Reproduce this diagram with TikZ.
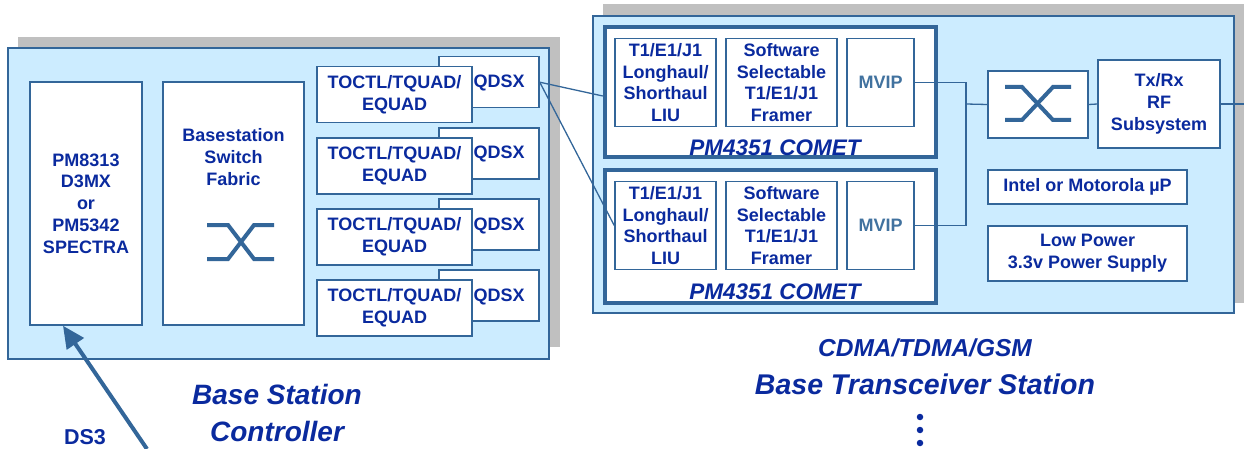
\documentclass[tikz,border=0pt]{standalone}
\usepackage{fontspec}
\setmainfont{Liberation Sans}
\usetikzlibrary{arrows.meta,calc}
\definecolor{txtblue}{HTML}{0A2A9E}
\definecolor{edgeblue}{HTML}{336699}
\definecolor{lightfill}{HTML}{CCECFF}
\definecolor{shadowgray}{HTML}{C0C0C0}
\definecolor{mvipblue}{HTML}{41729F}
\newcommand\bodyfont{\fontsize{18}{21.7}\selectfont\bfseries}
\begin{document}
\begin{tikzpicture}[x=1pt,y=-1pt,
  panel/.style={draw=edgeblue,line width=1.5pt,fill=lightfill,rectangle,inner sep=0pt},
  shadowbox/.style={fill=shadowgray,draw=none,rectangle,inner sep=0pt},
  blk/.style={draw=edgeblue,line width=1.5pt,fill=white,rectangle,inner sep=0pt,
    align=center,text=txtblue,font=\bodyfont},
  chip/.style={draw=edgeblue,line width=4.5pt,fill=white,rectangle,inner sep=0pt},
  lbl/.style={text=txtblue,font=\bodyfont,align=center,inner sep=0pt},
  biglbl/.style={text=txtblue,align=center,inner sep=0pt},
  wire/.style={draw=edgeblue,line width=1.3pt},
  xsym/.style={draw=edgeblue,line width=4pt},
  dot/.style={circle,fill=txtblue,inner sep=0pt,minimum size=6.5pt}]
\useasboundingbox (0,0) rectangle (1244,449);

% ---------- Base Station Controller ----------
\node[shadowbox,minimum width=542pt,minimum height=310pt] (bscsh) at (289,192) {};
\node[panel,minimum width=541pt,minimum height=311pt] (bsc) at (278.5,203.5) {};

\node[blk,minimum width=112pt,minimum height=243pt] (pm) at (86,203.5)
  {PM8313\\D3MX\\or\\PM5342\\SPECTRA};
\node[blk,minimum width=141pt,minimum height=243pt] (bsf) at (233.5,203.5) {};
\node[lbl] (bsft) at (233.5,157) {Basestation\\Switch\\Fabric};
\draw[xsym] (207,225) -- (228,225) -- (254,259) -- (274,259)
            (207,259) -- (228,259) -- (254,225) -- (274,225);

% QDSX + TOCTL boxes
\foreach \i/\yq/\yt in {1/82.2/94.7, 2/153.3/166, 3/224.5/237, 4/295.5/308}{
  \node[blk,minimum width=100pt,minimum height=51pt] (q\i) at (489,\yq) {};
  \node[lbl] (q\i t) at (499,\yq+1) {QDSX};
  \node[blk,minimum width=155pt,minimum height=56pt] (t\i) at (394.5,\yt)
    {TOCTL/TQUAD/\\EQUAD};
}

% ---------- Base Transceiver Station ----------
\node[shadowbox,minimum width=641pt,minimum height=299pt] (btssh) at (923.5,153.5) {};
\node[panel,minimum width=641pt,minimum height=297pt] (bts) at (913.5,164.5) {};

\node[chip,minimum width=331pt,minimum height=130pt] (c1) at (770.5,92) {};
\node[chip,minimum width=331pt,minimum height=133pt] (c2) at (770.5,236.5) {};

\foreach \i/\yc in {1/82.5, 2/225.5}{
  \node[blk,minimum width=101pt,minimum height=88pt] (liu\i) at (665.5,\yc)
    {T1/E1/J1\\Longhaul/\\Shorthaul\\LIU};
  \node[blk,minimum width=111pt,minimum height=88pt] (fr\i) at (781.5,\yc)
    {Software\\Selectable\\T1/E1/J1\\Framer};
  \node[blk,minimum width=67pt,minimum height=88pt,text=mvipblue] (mv\i) at (880.5,\yc) {MVIP};
}
\node[biglbl,font=\fontsize{22.5}{26}\selectfont\bfseries\itshape] (c1t) at (775,148) {PM4351 COMET};
\node[biglbl,font=\fontsize{22.5}{26}\selectfont\bfseries\itshape] (c2t) at (775,292) {PM4351 COMET};

\node[blk,minimum width=100pt,minimum height=67pt] (sw) at (1038,104.5) {};
\draw[xsym] (1005,87) -- (1022,87) -- (1053,120) -- (1071,120)
            (1005,120) -- (1022,120) -- (1053,87) -- (1071,87);
\node[blk,minimum width=122pt,minimum height=88pt] (tx) at (1159,104) {Tx/Rx\\RF\\Subsystem};
\node[blk,minimum width=199pt,minimum height=34pt] (up) at (1087.5,187) {Intel or Motorola µP};
\node[blk,minimum width=199pt,minimum height=55pt] (ps) at (1087.5,253.5) {Low Power\\3.3v Power Supply};

% ---------- connectors ----------
\coordinate (jn) at (966,104);
\coordinate (rfout) at (1244,104);
\draw[wire] (q1.east) -- ([yshift=-4pt]c1.west);
\draw[wire] (q1.east) -- (liu2.west);
\draw[wire] (mv1.east) -| (jn) |- (mv2.east);
\draw[wire] (jn) -- (sw.west);
\draw[wire] (sw.east) -- (tx.west);
\draw[wire] (tx.east) -- (rfout);

\coordinate (ds3in) at (147,449);
\draw[draw=edgeblue,line width=4pt,-{Triangle[length=22pt,width=20pt]}]
  (ds3in) -- ([xshift=-23pt]pm.south);

% ---------- labels ----------
\node[lbl,font=\fontsize{21.5}{24}\selectfont\bfseries] (ds3) at (85,437) {DS3};
\node[biglbl,font=\fontsize{28}{37}\selectfont\bfseries\itshape] (bsclbl) at (277,413)
  {Base Station\\Controller};
\node[biglbl,font=\fontsize{24.5}{28}\selectfont\bfseries\itshape] (btsl1) at (925,348) {CDMA/TDMA/GSM};
\node[biglbl,font=\fontsize{28.5}{32}\selectfont\bfseries\itshape] (btsl2) at (925,384) {Base Transceiver Station};
\node[dot] (d1) at (920,417) {};
\node[dot] (d2) at (920,430) {};
\node[dot] (d3) at (920,443) {};
\end{tikzpicture}
\end{document}
